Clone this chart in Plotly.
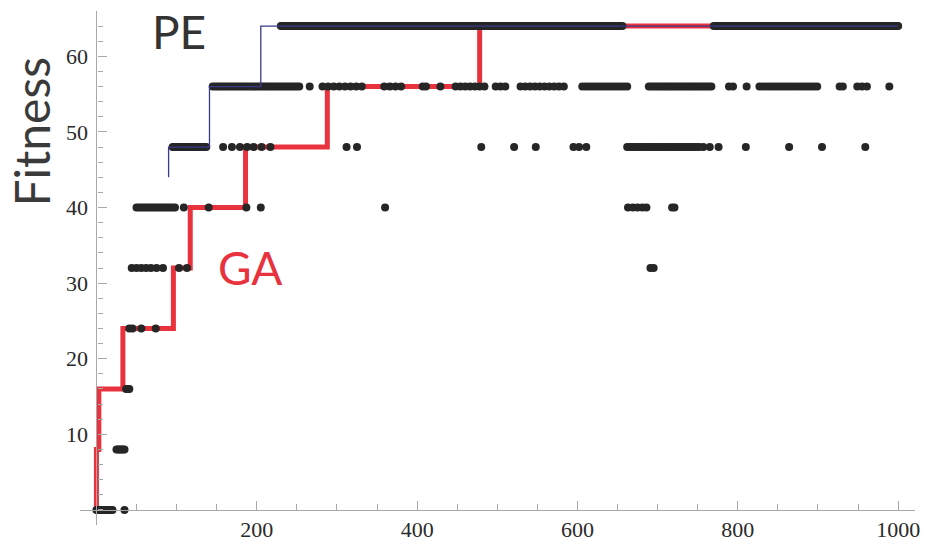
import numpy as np
import plotly.graph_objects as go

# ---- GA best fitness (step line) ----
ga_x = [0, 0, 3, 33, 96, 117, 186, 288, 478, 1000]
ga_y = [0, 8, 16, 24, 32, 40, 48, 56, 64, 64]

# ---- PE best fitness (step line) ----
pe_x = [90, 90, 141, 205, 1000]
pe_y = [44, 48, 56, 64, 64]

# ---- PE population fitness: runs of consecutive generations (level, first gen, last gen, spacing) ----
run_level = [0, 8, 16, 40, 48, 48,
             56, 56, 56, 56, 56, 56, 56, 56, 56, 56, 56, 56, 56,
             64, 64]
run_start = [0, 25, 37, 50, 95, 662,
             145, 282, 359, 407, 448, 498, 529, 606, 689, 789, 827, 927, 949,
             230, 770]
run_end = [20, 35, 41, 100, 137, 752,
           253, 334, 386, 411, 484, 511, 584, 665, 769, 794, 900, 931, 966,
           657, 1000]
run_step = [2, 2, 2, 3, 2, 3,
            3, 7, 7, 4, 6, 6, 6, 4, 3, 5, 4, 4, 6,
            2, 2]

# ---- PE population fitness: isolated individuals ----
pt_x = [35,
        41, 45, 56, 74,
        44, 50, 56, 62, 68, 75, 83, 103, 113, 691, 695,
        109, 140, 187, 205, 360, 663, 669, 675, 681, 686, 718, 721,
        158, 169, 179, 188, 196, 206, 217, 312, 325, 480, 521, 548, 595, 602, 611,
        757, 765, 776, 810, 864, 905, 959,
        266, 429, 811, 989]
pt_y = [0,
        24, 24, 24, 24,
        32, 32, 32, 32, 32, 32, 32, 32, 32, 32, 32,
        40, 40, 40, 40, 40, 40, 40, 40, 40, 40, 40, 40,
        48, 48, 48, 48, 48, 48, 48, 48, 48, 48, 48, 48, 48, 48, 48,
        48, 48, 48, 48, 48, 48, 48,
        56, 56, 56, 56]

x_ticks = [200, 400, 600, 800, 1000]
y_ticks = [10, 20, 30, 40, 50, 60]

# expand the runs
dot_x, dot_y = [], []
for lv, s, e, st in zip(run_level, run_start, run_end, run_step):
    xs = np.arange(s, e + 0.01, st)
    dot_x.extend(xs.tolist())
    dot_y.extend([lv] * len(xs))
dot_x.extend(pt_x)
dot_y.extend(pt_y)

X_RANGE = [-20.5, 1021]
Y_RANGE = [-2, 66]
AX = '#a8a8a8'
TXT = '#2a2a2a'
RED = '#E8333F'

fig = go.Figure()
fig.add_trace(go.Scatter(x=ga_x, y=ga_y, mode='lines', line=dict(color=RED, width=5, shape='hv'),
                         showlegend=False, hoverinfo='skip'))
fig.add_trace(go.Scatter(x=dot_x, y=dot_y, mode='markers', marker=dict(color='#262626', size=8),
                         cliponaxis=False, showlegend=False))
fig.add_trace(go.Scatter(x=pe_x, y=pe_y, mode='lines', line=dict(color='#3a3a8c', width=1.3, shape='hv'),
                         showlegend=False, hoverinfo='skip'))

fig.update_layout(
    width=926, height=547,
    margin=dict(l=80, r=11, t=11, b=22, autoexpand=False),
    plot_bgcolor='white', paper_bgcolor='white',
    xaxis=dict(range=X_RANGE, showgrid=False, zeroline=False, showline=True, linecolor=AX, linewidth=1.3,
               automargin=False,
               ticks='inside', ticklen=9, tickwidth=1.2, tickcolor=AX,
               tickmode='array', tickvals=x_ticks, ticktext=[str(v) for v in x_ticks],
               tickfont=dict(family='Liberation Serif', size=22, color=TXT),
               ticklabelstandoff=0,
               minor=dict(tickmode='linear', tick0=0, dtick=50, ticks='inside', ticklen=6, tickwidth=1.2,
                          tickcolor=AX, showgrid=False),
               anchor='free', position=(0 - Y_RANGE[0]) / (Y_RANGE[1] - Y_RANGE[0])),
    yaxis=dict(range=Y_RANGE, showgrid=False, zeroline=False, showline=True, linecolor=AX, linewidth=1.3,
               automargin=False,
               ticks='inside', ticklen=9, tickwidth=1.2, tickcolor=AX,
               tickmode='array', tickvals=y_ticks, ticktext=[str(v) for v in y_ticks],
               tickfont=dict(family='Liberation Serif', size=22, color=TXT),
               ticklabelstandoff=4,
               minor=dict(tickmode='linear', tick0=0, dtick=2, ticks='inside', ticklen=5, tickwidth=1.2,
                          tickcolor=AX, showgrid=False),
               anchor='free', position=(0 - X_RANGE[0]) / (X_RANGE[1] - X_RANGE[0])),
    annotations=[
        dict(text='Fitness', textangle=-90, xref='paper', yref='paper',
             x=(31 - 80) / 835, y=1 - (132.5 - 11) / 514, xanchor='center', yanchor='middle',
             showarrow=False, font=dict(family='Lato', size=48, color='#3a3a3a')),
        dict(text='PE', xref='x', yref='y', x=67, y=63.3, xanchor='left', yanchor='middle',
             showarrow=False, font=dict(family='Lato', size=46, color='#333333')),
        dict(text='GA', xref='x', yref='y', x=149, y=32.1, xanchor='left', yanchor='middle',
             showarrow=False, font=dict(family='Lato', size=46, color=RED)),
    ],
)

fig.write_html('out.html')
